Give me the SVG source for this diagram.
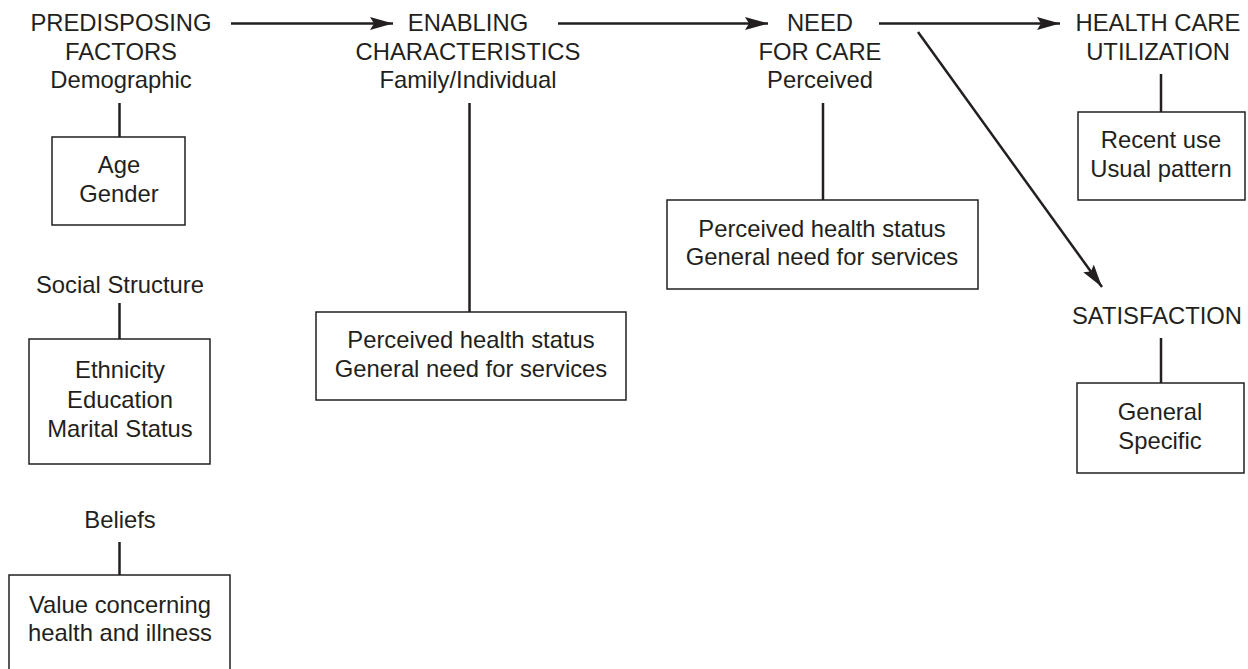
<svg xmlns="http://www.w3.org/2000/svg" width="1248" height="669" viewBox="0 0 1248 669">
<style>
text{font-family:"Liberation Sans",Arial,sans-serif;font-size:23.8px;fill:#231f20;text-anchor:middle}
.box{fill:#fff;stroke:#231f20;stroke-width:1.5}
.ln{stroke:#231f20;stroke-width:2.5;fill:none}
.arr{stroke:#231f20;stroke-width:2.5;fill:none;marker-end:url(#ah)}
</style>
<defs>
<marker id="ah" markerUnits="userSpaceOnUse" markerWidth="24" markerHeight="14" refX="23" refY="7" orient="auto" viewBox="0 0 24 14">
<path d="M0,0.5 L23,7 L0,13.5 L4,7 z" fill="#231f20"/>
</marker>
</defs>
<rect width="1248" height="669" fill="#fff"/>
<g id="connectors">
<line class="arr" x1="231" y1="23.5" x2="393" y2="23.5"/>
<line class="arr" x1="558" y1="23.5" x2="768" y2="23.5"/>
<line class="arr" x1="879" y1="23.5" x2="1060" y2="23.5"/>
<line class="arr" x1="918" y1="32" x2="1102" y2="287"/>
<line class="ln" x1="119.5" y1="103" x2="119.5" y2="137"/>
<line class="ln" x1="119.5" y1="303" x2="119.5" y2="339"/>
<line class="ln" x1="119.5" y1="542" x2="119.5" y2="575"/>
<line class="ln" x1="469.5" y1="103" x2="469.5" y2="312"/>
<line class="ln" x1="823" y1="103" x2="823" y2="200"/>
<line class="ln" x1="1161" y1="74" x2="1161" y2="112"/>
<line class="ln" x1="1161" y1="338" x2="1161" y2="383"/>
</g>
<g id="predisposing">
<text x="121" y="31">PREDISPOSING</text>
<text x="121" y="60">FACTORS</text>
<text x="121" y="88">Demographic</text>
</g>
<g id="age-gender">
<rect class="box" x="52" y="137" width="133" height="88"/>
<text x="119" y="173">Age</text>
<text x="119" y="202">Gender</text>
</g>
<g id="social-structure">
<text x="120" y="293">Social Structure</text>
</g>
<g id="ethnicity-box">
<rect class="box" x="29" y="339" width="181" height="125"/>
<text x="120" y="378">Ethnicity</text>
<text x="120" y="408">Education</text>
<text x="120" y="437">Marital Status</text>
</g>
<g id="beliefs">
<text x="120" y="528">Beliefs</text>
</g>
<g id="values-box">
<rect class="box" x="9" y="575" width="221" height="100"/>
<text x="120" y="613">Value concerning</text>
<text x="120" y="641">health and illness</text>
</g>
<g id="enabling">
<text x="468" y="31">ENABLING</text>
<text x="468" y="60">CHARACTERISTICS</text>
<text x="468" y="88">Family/Individual</text>
</g>
<g id="enabling-box">
<rect class="box" x="316" y="312" width="310" height="88"/>
<text x="471" y="348">Perceived health status</text>
<text x="471" y="377">General need for services</text>
</g>
<g id="need">
<text x="820" y="31">NEED</text>
<text x="820" y="60">FOR CARE</text>
<text x="820" y="88">Perceived</text>
</g>
<g id="need-box">
<rect class="box" x="667" y="200" width="311" height="89"/>
<text x="822" y="237">Perceived health status</text>
<text x="822" y="265">General need for services</text>
</g>
<g id="utilization">
<text x="1158" y="31">HEALTH CARE</text>
<text x="1158" y="60">UTILIZATION</text>
</g>
<g id="utilization-box">
<rect class="box" x="1078" y="112" width="167" height="88"/>
<text x="1161" y="148">Recent use</text>
<text x="1161" y="177">Usual pattern</text>
</g>
<g id="satisfaction">
<text x="1157" y="324">SATISFACTION</text>
</g>
<g id="satisfaction-box">
<rect class="box" x="1077" y="383" width="167" height="90"/>
<text x="1160" y="420">General</text>
<text x="1160" y="449">Specific</text>
</g>
</svg>
